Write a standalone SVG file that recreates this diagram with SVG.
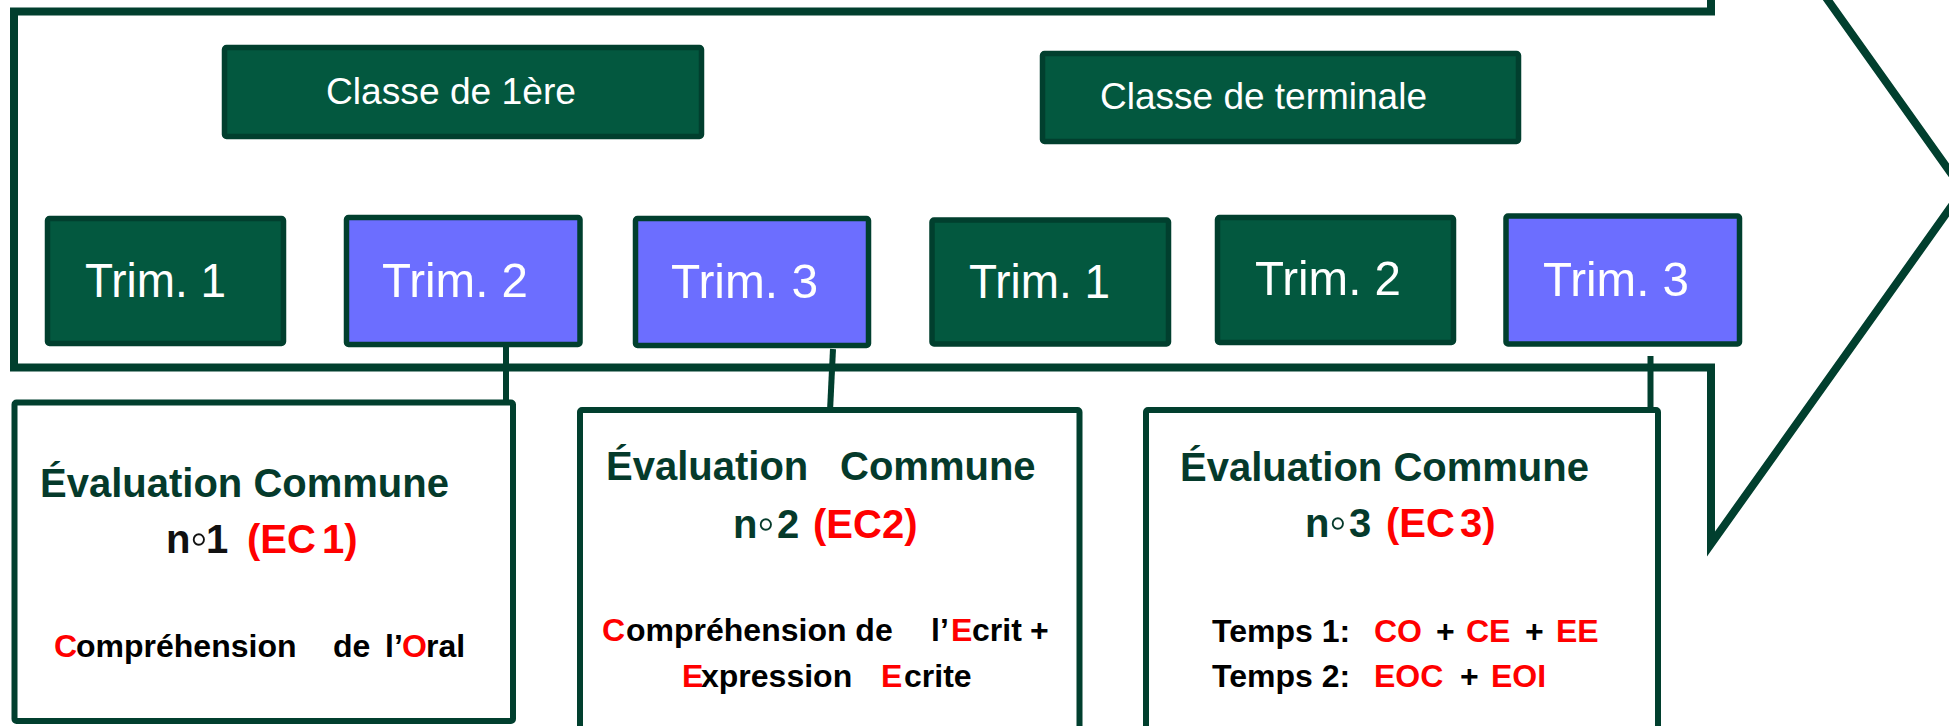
<svg xmlns="http://www.w3.org/2000/svg" width="1949" height="726" viewBox="0 0 1949 726">
<style>
text{font-family:"Liberation Sans",Arial,sans-serif}
.green{fill:#03583F;stroke:#013F2E;stroke-width:5.5}
.blue{fill:#6C6EFF;stroke:#013F2E;stroke-width:5.5}
.trim{fill:#FFFFFF;font-size:48.5px}
.classe{fill:#FFFFFF;font-size:37.5px}
.ec{fill:#FFFFFF;stroke:#013F2E;stroke-width:6}
.hd{font-size:40px;font-weight:bold;fill:#053A2B}
.bd{font-size:32px;font-weight:bold;fill:#000000}
.r{fill:#FF0000}
.ring{font-size:50px}
.conn{stroke:#013F2E;stroke-width:6;fill:none}
</style>
<rect width="1949" height="726" fill="#FFFFFF"/>
<g id="arrow">
<polygon points="14,11.5 1711,11.5 1711,-164 1963,190 1711,544 1711,367.5 14,367.5" fill="#FFFFFF" stroke="#013F2E" stroke-width="8" stroke-linejoin="miter" stroke-miterlimit="10"/>
</g>
<g id="classe1">
<rect class="green" x="224.5" y="47.5" width="477" height="89" rx="2"/>
<text class="classe" x="326" y="104" textLength="250" lengthAdjust="spacingAndGlyphs">Classe de 1ère</text>
</g>
<g id="classeT">
<rect class="green" x="1042.5" y="53.5" width="476" height="88" rx="2"/>
<text class="classe" x="1100" y="109" textLength="327" lengthAdjust="spacingAndGlyphs">Classe de terminale</text>
</g>
<g id="t1a">
<rect class="green" x="47.5" y="218.5" width="236" height="125" rx="2"/>
<text class="trim" x="85" y="297" textLength="141" lengthAdjust="spacingAndGlyphs">Trim. 1</text>
</g>
<g id="t2a">
<rect class="blue" x="346.5" y="217.5" width="233.5" height="127" rx="2"/>
<text class="trim" x="382" y="297" textLength="146" lengthAdjust="spacingAndGlyphs">Trim. 2</text>
</g>
<g id="t3a">
<rect class="blue" x="635.5" y="218.5" width="233" height="127" rx="2"/>
<text class="trim" x="671" y="298" textLength="147" lengthAdjust="spacingAndGlyphs">Trim. 3</text>
</g>
<g id="t1b">
<rect class="green" x="932" y="220" width="236.5" height="124" rx="2"/>
<text class="trim" x="969" y="298" textLength="141" lengthAdjust="spacingAndGlyphs">Trim. 1</text>
</g>
<g id="t2b">
<rect class="green" x="1217.5" y="217.5" width="236" height="125" rx="2"/>
<text class="trim" x="1255" y="295" textLength="146" lengthAdjust="spacingAndGlyphs">Trim. 2</text>
</g>
<g id="t3b">
<rect class="blue" x="1506" y="216" width="233.5" height="128" rx="2"/>
<text class="trim" x="1543" y="296" textLength="146" lengthAdjust="spacingAndGlyphs">Trim. 3</text>
</g>
<g id="connectors">
<line class="conn" x1="506" y1="347" x2="506" y2="403"/>
<line class="conn" x1="833" y1="349" x2="830" y2="411"/>
<line class="conn" x1="1650.5" y1="356" x2="1650.5" y2="411"/>
</g>
<g id="ec1">
<rect class="ec" x="14.5" y="402.5" width="498.5" height="318.5" rx="2"/>
<text class="hd" x="40" y="497">Évaluation Commune</text>
<text class="hd" y="553"><tspan x="166" fill="#111111">n</tspan><tspan class="ring" x="190" y="555" fill="#111111">◦</tspan><tspan x="206" y="553" fill="#111111">1</tspan><tspan class="r" x="247">(EC</tspan><tspan class="r" x="322">1)</tspan></text>
<text class="bd" y="657"><tspan class="r" x="54">C</tspan><tspan x="76">ompréhension</tspan><tspan x="333">de</tspan><tspan x="385">l’</tspan><tspan class="r" x="402">O</tspan><tspan x="426">ral</tspan></text>
</g>
<g id="ec2">
<rect class="ec" x="580" y="410" width="499.5" height="330" rx="2"/>
<text class="hd" y="480"><tspan x="606">Évaluation</tspan><tspan x="840">Commune</tspan></text>
<text class="hd" y="538"><tspan x="733">n</tspan><tspan class="ring" x="757" y="540">◦</tspan><tspan x="777" y="538">2</tspan><tspan class="r" x="813">(EC2)</tspan></text>
<text class="bd" y="641"><tspan class="r" x="602">C</tspan><tspan x="626">ompréhension de</tspan><tspan x="931">l’</tspan><tspan class="r" x="951">E</tspan><tspan x="972">crit</tspan><tspan x="1030">+</tspan></text>
<text class="bd" y="687"><tspan class="r" x="682">E</tspan><tspan x="701">xpression</tspan><tspan class="r" x="881">E</tspan><tspan x="904">crite</tspan></text>
</g>
<g id="ec3">
<rect class="ec" x="1146" y="410" width="512" height="330" rx="2"/>
<text class="hd" x="1180" y="481">Évaluation Commune</text>
<text class="hd" y="537"><tspan x="1305">n</tspan><tspan class="ring" x="1329" y="539">◦</tspan><tspan x="1349" y="537">3</tspan><tspan class="r" x="1386">(EC</tspan><tspan class="r" x="1460">3)</tspan></text>
<text class="bd" y="642"><tspan x="1212">Temps 1:</tspan><tspan class="r" x="1374">CO</tspan><tspan x="1436">+</tspan><tspan class="r" x="1466">CE</tspan><tspan x="1525">+</tspan><tspan class="r" x="1556">EE</tspan></text>
<text class="bd" y="687"><tspan x="1212">Temps 2:</tspan><tspan class="r" x="1374">EOC</tspan><tspan x="1460">+</tspan><tspan class="r" x="1491">EOI</tspan></text>
</g>
</svg>
